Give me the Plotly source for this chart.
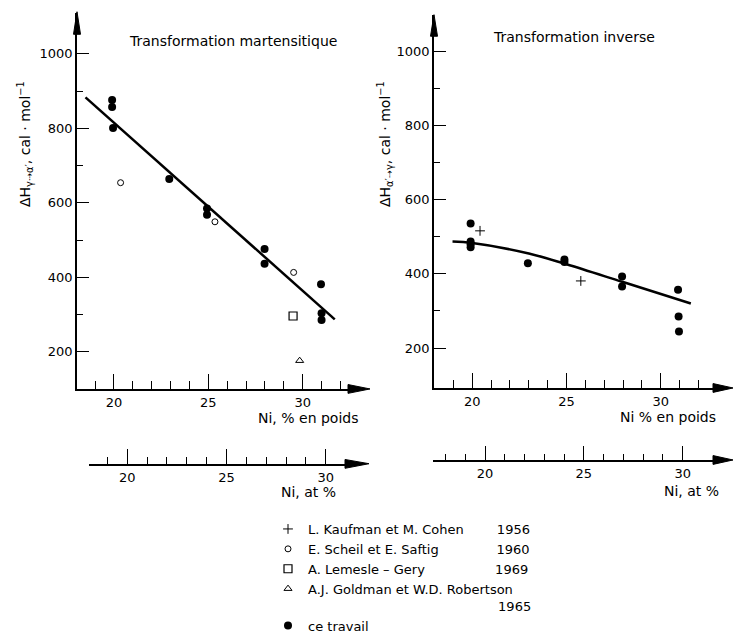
import plotly.graph_objects as go

W, H = 733, 641
FONT = "DejaVu Sans"

def px(x):
    return x / W

def py(y):
    return 1 - y / H

# ---------------- data ----------------
# Left panel: martensitic transformation (gamma -> alpha')
ct_left_x = [19.9, 19.9, 19.95, 22.93, 24.93, 24.93, 27.98, 27.98, 30.97, 31.0, 31.0]
ct_left_y = [876, 857, 801, 664, 585, 568, 476, 436, 381, 303, 285]
scheil_x = [20.35, 25.35, 29.52]
scheil_y = [654, 549, 413]
lemesle_x = [29.49]
lemesle_y = [296]
goldman_x = [29.84]
goldman_y = [176]
fit_left_x = [18.49, 31.70]
fit_left_y = [883, 287]

# Right panel: reverse transformation (alpha' -> gamma)
ct_right_x = [19.91, 19.91, 19.91, 19.91, 22.95, 24.89, 24.89, 27.95, 27.95, 30.92, 30.95, 30.97]
ct_right_y = [536, 487, 480, 472, 429, 439, 432, 393, 366, 357, 285, 245]
kaufman_x = [20.41, 25.76]
kaufman_y = [516, 381]
fit_right_x = [18.95, 20, 23, 25, 28, 31.6]
fit_right_y = [487, 483, 455, 426, 378, 320]

y_major = [200, 400, 600, 800, 1000]
y_minor = [300, 500, 700, 900]
x_major = [20, 25, 30]
wt_minor_left = [19, 21, 22, 23, 24, 26, 27, 28, 29, 31, 32]
wt_minor_right = [19, 21, 22, 23, 24, 26, 27, 28, 29, 31, 32]
at_minor_left = [19, 21, 22, 23, 24, 26, 27, 28, 29]
at_minor_right = [18, 19, 21, 22, 23, 24, 26, 27, 28, 29]

NB = "\u00a0"
legend_names = {
    "kaufman": "L. Kaufman et M. Cohen" + NB * 8 + "1956",
    "scheil": "E. Scheil et E. Saftig" + NB * 14 + "1960",
    "lemesle": "A. Lemesle \u2013 Gery" + NB * 17 + "1969",
    "goldman": "A.J. Goldman et W.D. Robertson<br>" + NB * 46 + "1965",
    "ct": "ce travail",
}

fig = go.Figure()

# legend order: +, o, square, triangle, dot
fig.add_trace(go.Scatter(x=kaufman_x, y=kaufman_y, mode="markers", xaxis="x2", yaxis="y2",
                         name=legend_names["kaufman"],
                         marker=dict(symbol="cross-thin-open", size=7, color="black",
                                     line=dict(width=1, color="black"))))
fig.add_trace(go.Scatter(x=scheil_x, y=scheil_y, mode="markers", xaxis="x", yaxis="y",
                         name=legend_names["scheil"],
                         marker=dict(symbol="circle-open", size=6, color="black",
                                     line=dict(width=1, color="black"))))
fig.add_trace(go.Scatter(x=lemesle_x, y=lemesle_y, mode="markers", xaxis="x", yaxis="y",
                         name=legend_names["lemesle"],
                         marker=dict(symbol="square-open", size=8, color="black",
                                     line=dict(width=1.2, color="black"))))
fig.add_trace(go.Scatter(x=goldman_x, y=goldman_y, mode="markers", xaxis="x", yaxis="y",
                         name=legend_names["goldman"],
                         marker=dict(symbol="triangle-up-open", size=7, color="black",
                                     line=dict(width=1, color="black"))))
fig.add_trace(go.Scatter(x=ct_left_x, y=ct_left_y, mode="markers", xaxis="x", yaxis="y",
                         name=legend_names["ct"],
                         marker=dict(symbol="circle", size=8, color="black")))
fig.add_trace(go.Scatter(x=ct_right_x, y=ct_right_y, mode="markers", xaxis="x2", yaxis="y2",
                         name=legend_names["ct"], showlegend=False,
                         marker=dict(symbol="circle", size=8, color="black")))
fig.add_trace(go.Scatter(x=fit_left_x, y=fit_left_y, mode="lines", xaxis="x", yaxis="y",
                         showlegend=False, line=dict(color="black", width=2.5)))
fig.add_trace(go.Scatter(x=fit_right_x, y=fit_right_y, mode="lines", xaxis="x2", yaxis="y2",
                         showlegend=False, line=dict(color="black", width=2.5, shape="spline")))
# empty traces to instantiate the atomic-% scale axes
fig.add_trace(go.Scatter(x=[], y=[], xaxis="x3", yaxis="y3", showlegend=False))
fig.add_trace(go.Scatter(x=[], y=[], xaxis="x4", yaxis="y4", showlegend=False))

tickfont = dict(family=FONT, size=13, color="black")

def xax(domain, rng, minor_vals, anchor, major_len=15, minor_len=8):
    return dict(domain=domain, range=rng, anchor=anchor, showline=True, linecolor="black",
                linewidth=1.5, showgrid=False, zeroline=False, ticks="inside",
                tickvals=x_major, ticklen=major_len, tickwidth=1.2, tickcolor="black",
                tickfont=tickfont, fixedrange=True, ticklabelstandoff=1,
                minor=dict(tickvals=minor_vals, ticks="inside", ticklen=minor_len,
                           tickwidth=1.2, tickcolor="black", showgrid=False))

def yax(domain, rng, anchor):
    return dict(domain=domain, range=rng, anchor=anchor, showline=True, linecolor="black",
                linewidth=1.5, showgrid=False, zeroline=False, ticks="inside",
                tickvals=y_major, ticklen=12, tickwidth=1.2, tickcolor="black",
                tickfont=tickfont, fixedrange=True,
                minor=dict(tickvals=y_minor, ticks="inside", ticklen=6,
                           tickwidth=1.2, tickcolor="black", showgrid=False))

layout = dict(
    width=W, height=H, margin=dict(l=0, r=0, t=0, b=0),
    paper_bgcolor="white", plot_bgcolor="rgba(0,0,0,0)",
    font=dict(family=FONT, size=14, color="black"),
    xaxis=xax([px(77), px(352)], [18.04, 32.613], wt_minor_left, "y"),
    yaxis=yax([py(397), py(13)], [100, 1110.5], "x"),
    xaxis2=xax([px(434), px(715)], [17.967, 32.882], wt_minor_right, "y2"),
    yaxis2=yax([py(396), py(15)], [92.54, 1098.5], "x2"),
    xaxis3=xax([px(89), px(345)], [18.07, 30.973], at_minor_left, "y3", 15, 7),
    yaxis3=dict(domain=[py(473.3), py(468)], anchor="x3", visible=False, range=[0, 1]),
    xaxis4=xax([px(433), px(715)], [17.37, 31.634], at_minor_right, "y4", 14, 6),
    yaxis4=dict(domain=[py(469.5), py(465)], anchor="x4", visible=False, range=[0, 1]),
    showlegend=True,
    legend=dict(x=px(268), y=py(525), xanchor="left", yanchor="top",
                font=dict(family=FONT, size=13, color="black"),
                bgcolor="rgba(0,0,0,0)", borderwidth=0, valign="top",
                tracegroupgap=0, itemclick=False, itemdoubleclick=False),
)
fig.update_layout(**layout)

# arrowheads on the axes
def tri(p1, p2, p3):
    return dict(type="path", xref="paper", yref="paper",
                path=f"M{px(p1[0])},{py(p1[1])} L{px(p2[0])},{py(p2[1])} L{px(p3[0])},{py(p3[1])} Z",
                fillcolor="black", line=dict(color="black", width=1))

shapes = [
    tri((73.5, 35), (80.5, 35), (77, 12)),
    tri((430.5, 37), (437.5, 37), (434, 15)),
    tri((348, 392.5), (348, 401.5), (370, 397)),
    tri((713, 391.5), (713, 400.5), (733, 396)),
    tri((345, 469), (345, 478), (369, 473.3)),
    tri((713, 465), (713, 474), (733, 469.5)),
]
fig.update_layout(shapes=shapes)

def ann(text, x, y, size=14, angle=0, xanchor="center"):
    return dict(text=text, x=px(x), y=py(y), xref="paper", yref="paper",
                showarrow=False, xanchor=xanchor, yanchor="middle", textangle=angle,
                font=dict(family=FONT, size=size, color="black"))

annotations = [
    ann("Transformation martensitique", 233, 42),
    ann("Transformation inverse", 574, 38),
    ann("\u0394H<sub>\u03b3\u21e2\u03b1\u2032</sub>, cal \u00b7 mol<sup>\u22121</sup>", 25, 147, angle=-90),
    ann("\u0394H<sub>\u03b1\u2032\u21e2\u03b3</sub>, cal \u00b7 mol<sup>\u22121</sup>", 385, 147, angle=-90),
    ann("Ni, % en poids", 308, 427),
    ann("Ni % en poids", 668, 426),
    ann("Ni, at %", 308, 502),
    ann("Ni, at %", 691, 501),
]
fig.update_layout(annotations=annotations)

fig.write_html("out.html")
